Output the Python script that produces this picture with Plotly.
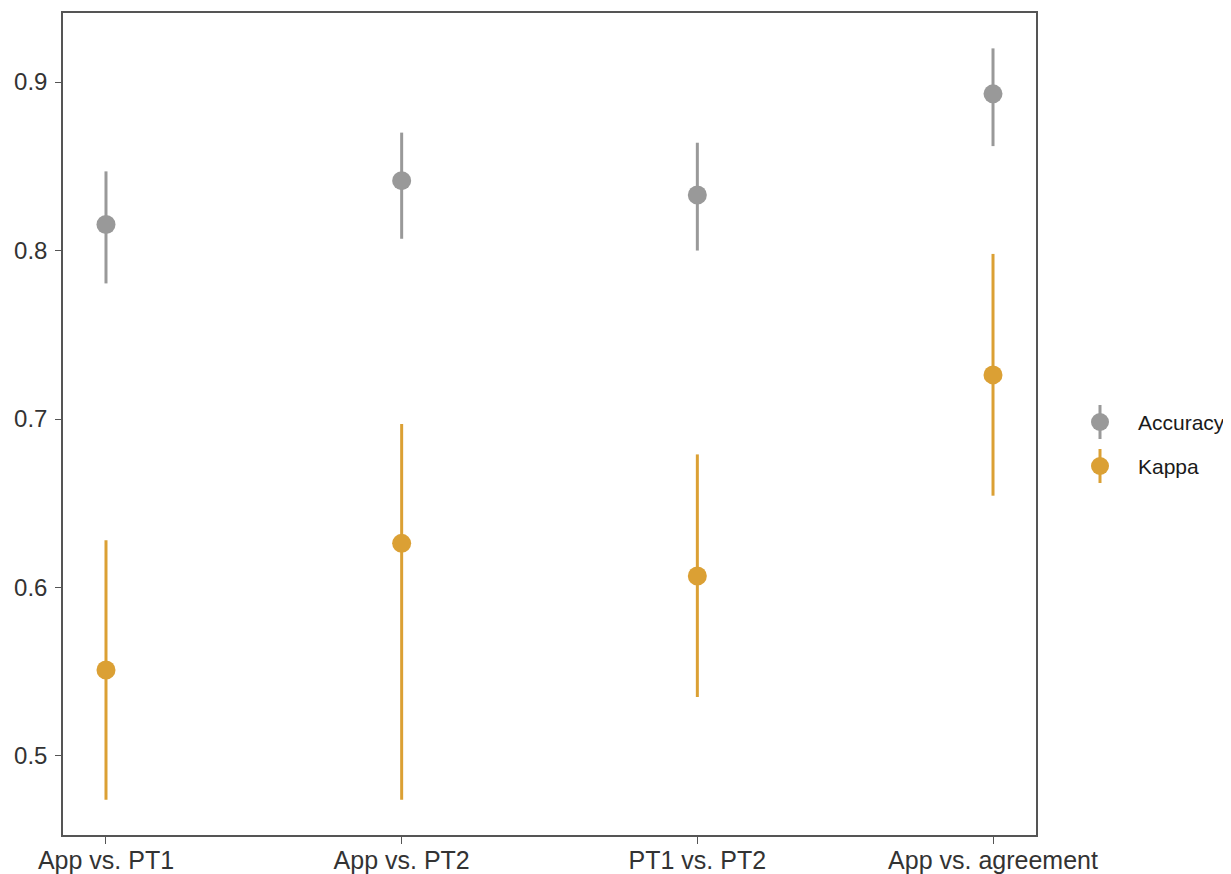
import plotly.graph_objects as go

categories = ["App vs. PT1", "App vs. PT2", "PT1 vs. PT2", "App vs. agreement"]
acc_est = [0.8155, 0.8415, 0.8330, 0.8930]
acc_low = [0.7805, 0.8070, 0.8000, 0.8620]
acc_high = [0.8470, 0.8700, 0.8640, 0.9200]
kap_est = [0.5510, 0.6262, 0.6068, 0.7262]
kap_low = [0.4740, 0.4740, 0.5350, 0.6545]
kap_high = [0.6280, 0.6970, 0.6790, 0.7980]
yticks = [0.5, 0.6, 0.7, 0.8, 0.9]

GRAY = "#999999"
GOLD = "#DBA034"

OFF = 8  # page body margin
W, H = 1231 - OFF, 874 - OFF
ML, MT = 63 - OFF, 13 - OFF
MR = W - (1036 - OFF)
MB = H - (835 - OFF)
PW = W - ML - MR
PH = H - MT - MB

fig = go.Figure()
xi = list(range(len(categories)))
for name, est, lo, hi, col in [("Accuracy", acc_est, acc_low, acc_high, GRAY),
                                ("Kappa", kap_est, kap_low, kap_high, GOLD)]:
    fig.add_trace(go.Scatter(
        x=xi, y=est, mode="markers", name=name, showlegend=False,
        marker=dict(size=19, color=col),
        error_y=dict(type="data", symmetric=False,
                     array=[h - e for h, e in zip(hi, est)],
                     arrayminus=[e - l for e, l in zip(est, lo)],
                     color=col, thickness=3, width=0),
    ))

fig.update_layout(
    width=W, height=H,
    margin=dict(l=ML, r=MR, t=MT, b=MB, autoexpand=False),
    paper_bgcolor="white", plot_bgcolor="white",
    font=dict(family="Liberation Sans, Arial, sans-serif", color="#333333"),
    xaxis=dict(range=[-0.1454, 3.1454], tickmode="array", tickvals=xi,
               ticktext=categories, showgrid=False, zeroline=False,
               showline=True, mirror=True, linecolor="#555555", linewidth=1.5,
               ticks="outside", ticklen=7, tickwidth=1.2, tickcolor="#555555",
               tickfont=dict(size=25, color="#333333"), ticklabelstandoff=-5),
    yaxis=dict(range=[0.4531, 0.9410], tickmode="array", tickvals=yticks,
               ticktext=[f"{v:.1f}" for v in yticks], showgrid=False, zeroline=False,
               showline=True, mirror=True, linecolor="#555555", linewidth=1.5,
               ticks="outside", ticklen=6, tickwidth=1.2, tickcolor="#555555",
               tickfont=dict(size=24, color="#333333"), ticklabelstandoff=3),
)

# Manual legend (vertical pointrange glyphs), positions in window pixels
def py(pix_y):
    return (MT + PH - (pix_y - OFF)) / PH

def px(pix_x):
    return ((pix_x - OFF) - ML) / PW

legend_items = [("Accuracy", GRAY, 422), ("Kappa", GOLD, 466)]
for label, col, cy in legend_items:
    fig.add_shape(type="line", xref="paper", yref="paper",
                  xsizemode="pixel", ysizemode="pixel",
                  xanchor=px(1100), yanchor=py(cy),
                  x0=0, x1=0, y0=-17, y1=17,
                  line=dict(color=col, width=3))
    fig.add_shape(type="circle", xref="paper", yref="paper",
                  xsizemode="pixel", ysizemode="pixel",
                  xanchor=px(1100), yanchor=py(cy),
                  x0=-9, x1=9, y0=-9, y1=9,
                  line=dict(width=0), fillcolor=col)
    fig.add_annotation(text=label, xref="paper", yref="paper",
                       x=px(1136), y=py(cy), xanchor="left", yanchor="middle",
                       showarrow=False, font=dict(size=21, color="#1a1a1a"))

fig.write_html("out.html")
